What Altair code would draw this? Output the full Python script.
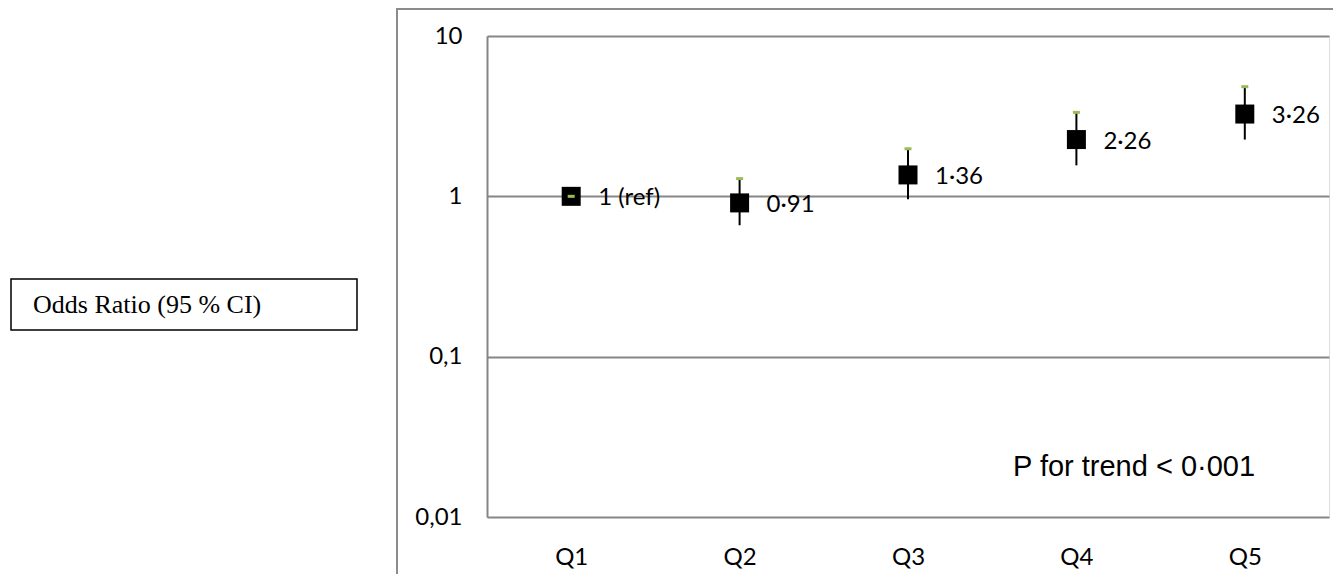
import altair as alt
import pandas as pd

# ---- data ----
QUARTILES = ["Q1", "Q2", "Q3", "Q4", "Q5"]
ODDS_RATIO = [1.0, 0.91, 1.36, 2.26, 3.26]
CI_LOW = [1.0, 0.66, 0.96, 1.56, 2.26]
CI_HIGH = [1.0, 1.29, 1.98, 3.34, 4.83]
POINT_LABELS = ["1 (ref)", "0·91", "1·36", "2·26", "3·26"]
Y_TICKS = [0.01, 0.1, 1, 10]
Y_TICK_LABELS = ["0,01", "0,1", "1", "10"]
NOTE = "P for trend < 0·001"
BOX_TEXT = "Odds Ratio (95 % CI)"

W, H = 842, 481
PAD_L, PAD_T, PAD_R, PAD_B = 479, 28, 4, 57

df = pd.DataFrame({
    "q": QUARTILES,
    "or": ODDS_RATIO,
    "lo": CI_LOW,
    "hi": CI_HIGH,
    "label": POINT_LABELS,
})

label_expr = " : ".join(
    f"datum.value == {v} ? '{l}'" for v, l in zip(Y_TICKS, Y_TICK_LABELS)
) + " : ''"

GRID = "#868686"
FONT = "Lato"
FS = 24

x_enc = alt.X(
    "q:N",
    sort=QUARTILES,
    scale=alt.Scale(type="point", padding=0.5),
    axis=alt.Axis(
        title=None, domain=False, ticks=False, grid=False, labelAngle=0,
        labelPadding=28, labelFont=FONT, labelFontSize=FS, labelColor="#000000",
    ),
)
y_scale = alt.Scale(type="log", domain=[0.01, 10], nice=False)
y_axis = alt.Axis(
    title=None, values=Y_TICKS, labelExpr=label_expr, ticks=False,
    domain=True, domainColor=GRID, domainWidth=2,
    grid=True, gridColor=GRID, gridWidth=2,
    labelPadding=25, labelFont=FONT, labelFontSize=FS, labelColor="#000000",
)

base = alt.Chart(df)

rules = base.mark_rule(color="black", strokeWidth=2).encode(
    x=x_enc, y=alt.Y("lo:Q", scale=y_scale, axis=y_axis), y2="hi:Q"
)
squares = base.mark_square(size=361, color="black", opacity=1, filled=True).encode(
    x=x_enc, y=alt.Y("or:Q", scale=y_scale, axis=y_axis)
)
ticks = base.mark_tick(
    color="#9BBB59", size=7, thickness=3, opacity=1, orient="horizontal"
).encode(x=x_enc, y=alt.Y("hi:Q", scale=y_scale, axis=y_axis))
texts = base.mark_text(
    align="left", baseline="middle", dx=27, dy=2, font=FONT, fontSize=FS,
    color="black",
).encode(x=x_enc, y=alt.Y("or:Q", scale=y_scale, axis=y_axis), text="label:N")

one = pd.DataFrame({"t": [NOTE]})
box_df = pd.DataFrame({"t": [BOX_TEXT]})

frame_left = alt.Chart(one).mark_rule(color="#8c8c8c", strokeWidth=2).encode(
    x=alt.value(-90), y=alt.value(-27), y2=alt.value(H + PAD_B)
)
frame_top = alt.Chart(one).mark_rule(color="#8c8c8c", strokeWidth=2).encode(
    x=alt.value(-91), x2=alt.value(W + PAD_R), y=alt.value(-27)
)
box = alt.Chart(box_df).mark_rect(fill="white", stroke="black", strokeWidth=1.5).encode(
    x=alt.value(-476), x2=alt.value(-130), y=alt.value(243), y2=alt.value(294)
)
box_text = alt.Chart(box_df).mark_text(
    align="left", baseline="alphabetic", font="Liberation Serif", fontSize=26,
    color="black",
).encode(x=alt.value(-454), y=alt.value(277), text="t:N")
note = alt.Chart(one).mark_text(
    align="left", baseline="alphabetic", font="Liberation Sans", fontSize=29,
    color="black",
).encode(x=alt.value(526), y=alt.value(440), text="t:N")

chart = alt.layer(
    frame_left, frame_top, box, box_text, note, rules, squares, ticks, texts
).properties(
    width=W, height=H, autosize="none",
    padding={"left": PAD_L, "top": PAD_T, "right": PAD_R, "bottom": PAD_B},
).configure_view(strokeWidth=0).configure(background="white")

chart.save("out.html", embed_options={"renderer": "svg", "actions": False})
